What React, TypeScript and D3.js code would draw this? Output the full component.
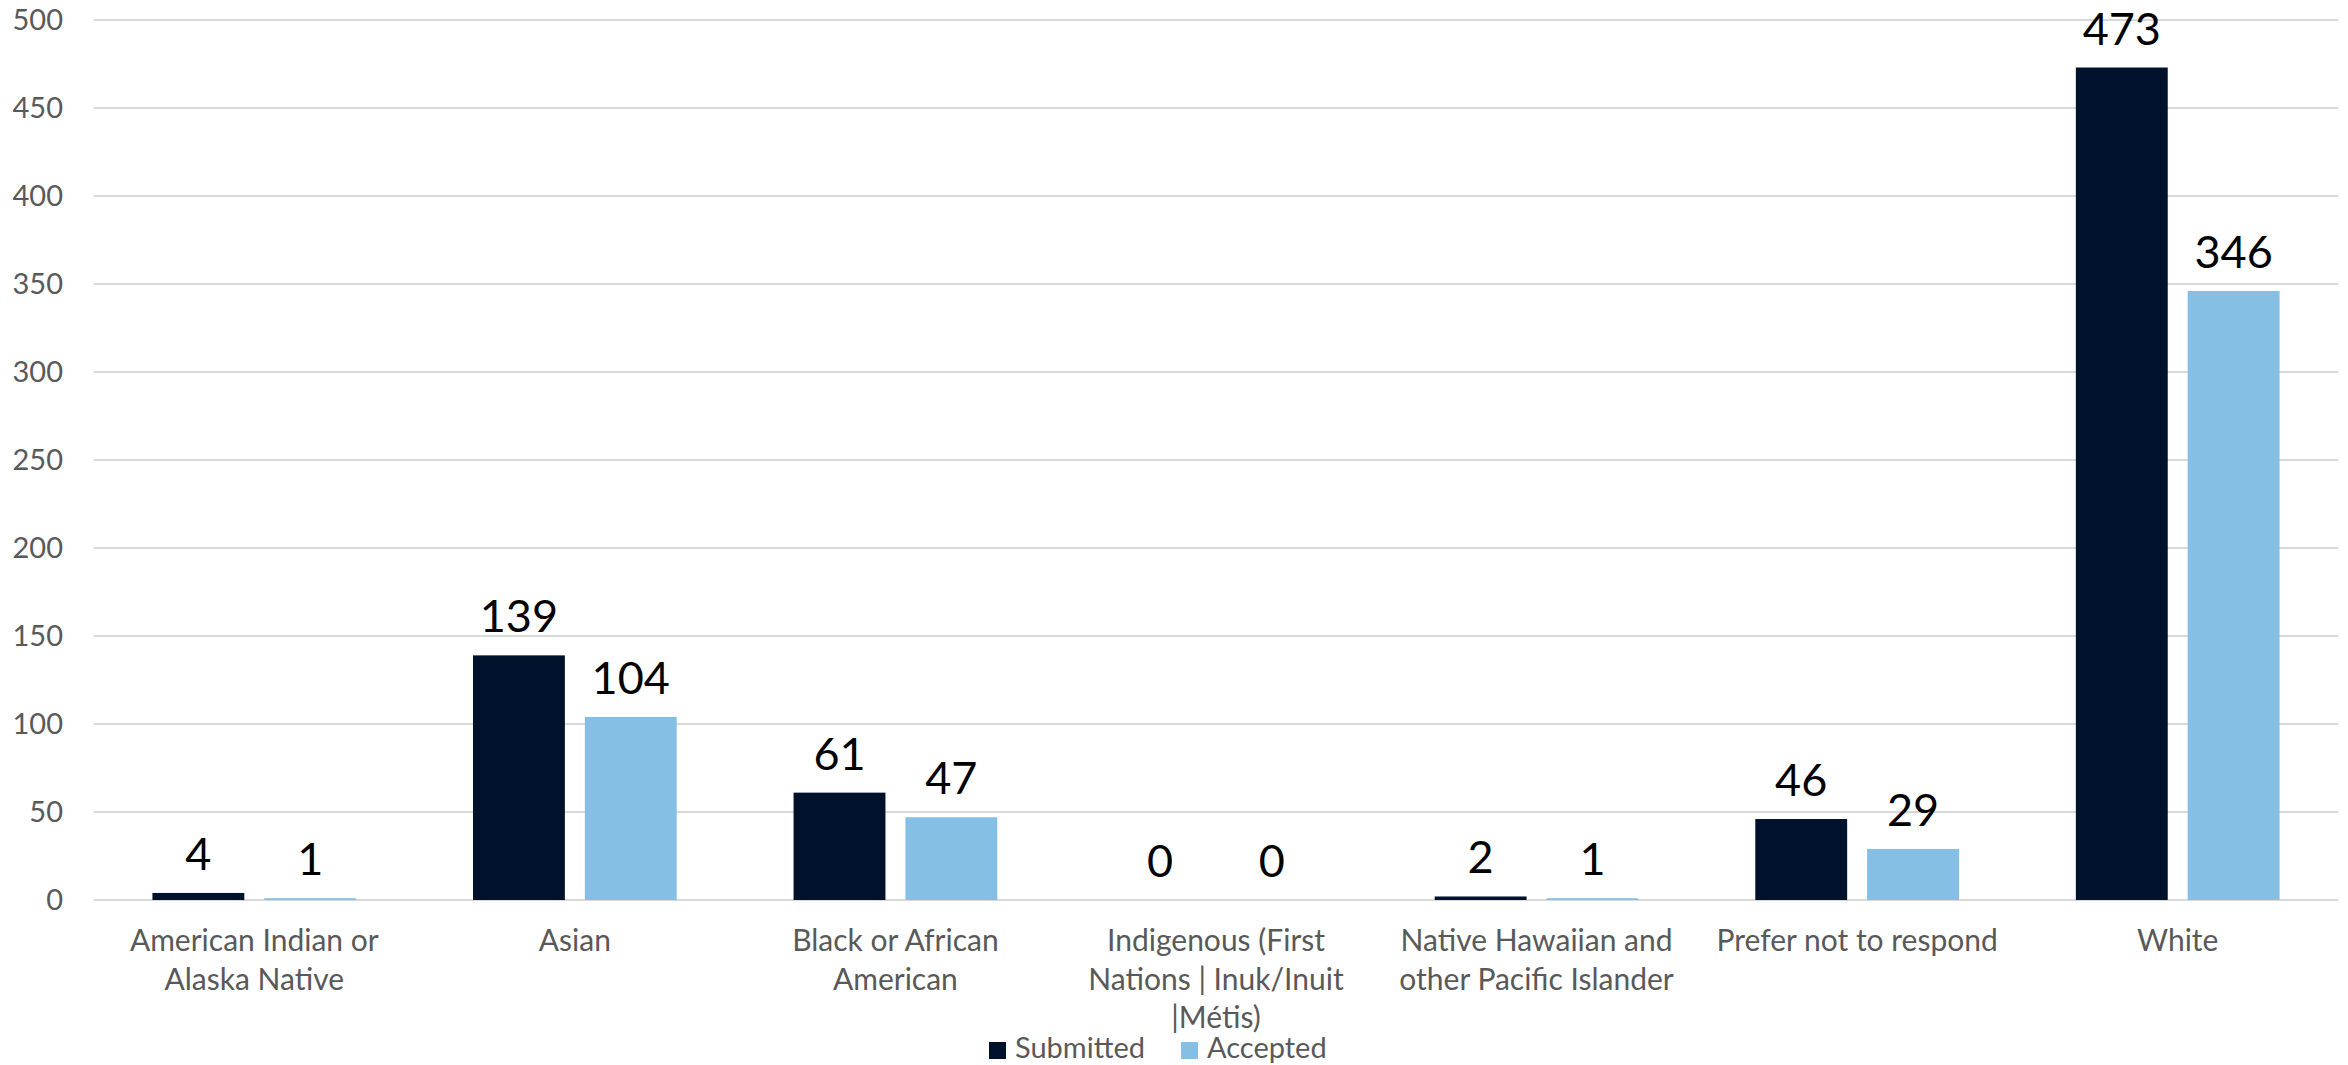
import React from "react";
import * as d3 from "d3";

const categories: string[][] = [
  ["American Indian or", "Alaska Native"],
  ["Asian"],
  ["Black or African", "American"],
  ["Indigenous (First", "Nations | Inuk/Inuit", "|Métis)"],
  ["Native Hawaiian and", "other Pacific Islander"],
  ["Prefer not to respond"],
  ["White"],
];
const submitted = [4, 139, 61, 0, 2, 46, 473];
const accepted = [1, 104, 47, 0, 1, 29, 346];
const yTicks = [0, 50, 100, 150, 200, 250, 300, 350, 400, 450, 500];
const seriesNames = ["Submitted", "Accepted"];

const W = 2348;
const H = 1065;
const FONT = "Lato, 'Open Sans', sans-serif";
const COLORS = ["#00112B", "#85BFE3"];

export default function App() {
  const left = 94;
  const right = 2338;
  const top = 20;
  const bottom = 900;
  const idx = categories.map((_, i) => i);
  const x = d3.scaleBand<number>().domain(idx).range([left, right]).padding(0);
  const y = d3.scaleLinear().domain([0, 500]).range([bottom, top]);
  const bw = x.bandwidth();
  const barW = bw * 0.2866;
  const gap = bw * 0.0623;
  const series = [submitted, accepted];

  return (
    <svg
      width={W}
      height={H}
      style={{ position: "absolute", left: 0, top: 0, background: "#fff" }}
      fontFamily={FONT}
    >
      <rect x={0} y={0} width={W} height={H} fill="#fff" />
      {yTicks.map((t) => (
        <g key={t}>
          <line x1={left} x2={right} y1={y(t)} y2={y(t)} stroke="#D9D9D9" strokeWidth={2} />
          <text x={63} y={y(t)} dy="0.36em" textAnchor="end" fontSize={29} fill="#595959">
            {t}
          </text>
        </g>
      ))}
      {idx.map((i) => {
        const cx = (x(i) as number) + bw / 2;
        return (
          <g key={i}>
            {series.map((s, k) => {
              const bx = k === 0 ? cx - gap / 2 - barW : cx + gap / 2;
              const v = s[i];
              return (
                <g key={k}>
                  <rect x={bx} y={y(v)} width={barW} height={y(0) - y(v)} fill={COLORS[k]} />
                  <text
                    x={bx + barW / 2}
                    y={y(v) - 23}
                    textAnchor="middle"
                    fontSize={45}
                    fill="#000"
                  >
                    {v}
                  </text>
                </g>
              );
            })}
            {categories[i].map((line, j) => (
              <text
                key={j}
                x={cx}
                y={951 + j * 38.5}
                textAnchor="middle"
                fontSize={30}
                fill="#595959"
              >
                {line}
              </text>
            ))}
          </g>
        );
      })}
      {seriesNames.map((n, k) => {
        const lx = k === 0 ? 989 : 1181;
        return (
          <g key={n}>
            <rect x={lx} y={1042} width={17} height={17} fill={COLORS[k]} />
            <text x={lx + 26} y={1058} fontSize={29} fill="#595959">
              {n}
            </text>
          </g>
        );
      })}
    </svg>
  );
}
